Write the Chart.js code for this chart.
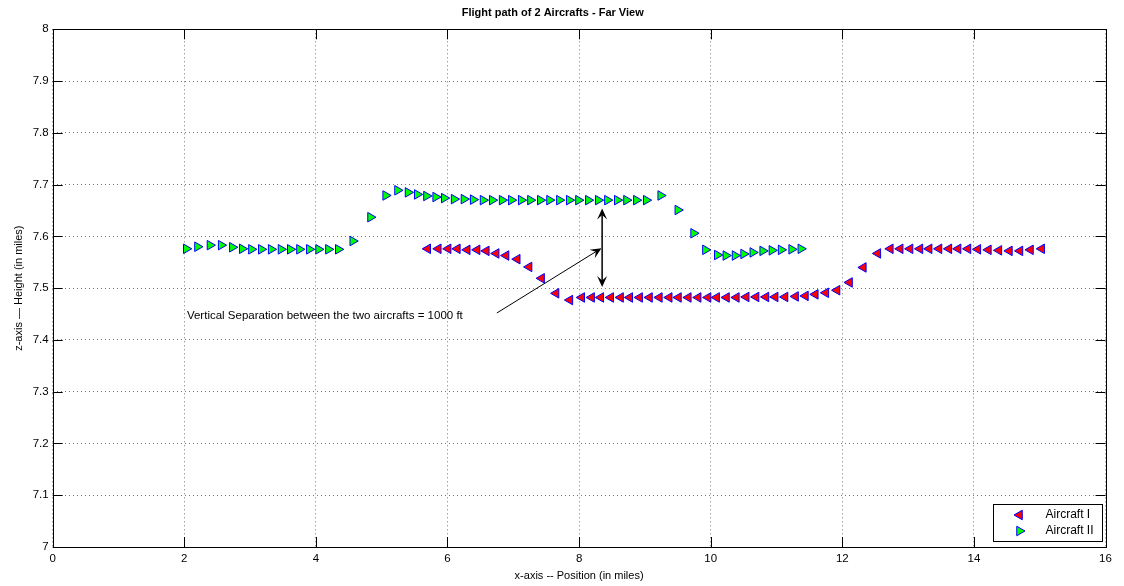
<!DOCTYPE html>
<html>
<head>
<meta charset="utf-8">
<script src="https://cdn.jsdelivr.net/npm/chart.js@4/dist/chart.umd.min.js"></script>
<style>
  body { margin: 0; background: #fff; }
  #wrap { width: 1124px; height: 586px; position: relative; }
</style>
</head>
<body>
<div id="wrap"><canvas id="flight"></canvas></div>
<script>
// tick labels
var xTicks = [0, 2, 4, 6, 8, 10, 12, 14, 16];
var yTicks = [7, 7.1, 7.2, 7.3, 7.4, 7.5, 7.6, 7.7, 7.8, 7.9, 8];

// Aircraft I (red, flying left)
var ac1X = [5.70, 5.86, 6.01, 6.15, 6.30, 6.45, 6.59, 6.74, 6.89, 7.06, 7.24, 7.43, 7.65, 7.86,
  8.04, 8.19, 8.33, 8.48, 8.63, 8.77, 8.92, 9.07, 9.22, 9.37, 9.51, 9.66, 9.81, 9.96,
  10.09, 10.24, 10.39, 10.54, 10.69, 10.84, 10.98, 11.13, 11.29, 11.44, 11.59, 11.75, 11.92,
  12.11, 12.32, 12.54, 12.73, 12.88, 13.03, 13.18, 13.32, 13.47, 13.62, 13.76, 13.91,
  14.06, 14.22, 14.38, 14.54, 14.70, 14.86, 15.03];
var ac1Z = [7.576, 7.576, 7.576, 7.576, 7.574, 7.574, 7.572, 7.567, 7.563, 7.556, 7.541, 7.519, 7.490, 7.477,
  7.482, 7.482, 7.482, 7.482, 7.482, 7.482, 7.482, 7.482, 7.482, 7.482, 7.482, 7.482, 7.482, 7.482,
  7.482, 7.482, 7.482, 7.483, 7.483, 7.483, 7.483, 7.483, 7.484, 7.485, 7.488, 7.491, 7.496,
  7.511, 7.540, 7.567, 7.576, 7.576, 7.576, 7.576, 7.576, 7.576, 7.576, 7.576, 7.576,
  7.575, 7.574, 7.573, 7.572, 7.572, 7.574, 7.576];

// Aircraft II (green, flying right)
var ac2X = [2.03, 2.20, 2.39, 2.56, 2.73, 2.88, 3.02, 3.17, 3.32, 3.47, 3.61, 3.75, 3.90, 4.04, 4.19, 4.34,
  4.56, 4.83,
  5.06, 5.24, 5.40, 5.54, 5.68, 5.82, 5.95, 6.10, 6.25, 6.39, 6.54, 6.68, 6.83, 6.97, 7.12, 7.26,
  7.41, 7.55, 7.70, 7.85, 7.99, 8.14, 8.29, 8.43, 8.58, 8.72, 8.87, 9.02,
  9.24, 9.50, 9.74, 9.92,
  10.10, 10.23, 10.37, 10.50, 10.64, 10.79, 10.93, 11.07, 11.23, 11.37];
var ac2Z = [7.576, 7.580, 7.583, 7.583, 7.579, 7.576, 7.575, 7.575, 7.575, 7.575, 7.575, 7.575, 7.575, 7.575, 7.575, 7.575,
  7.591, 7.637,
  7.679, 7.689, 7.685, 7.681, 7.678, 7.676, 7.674, 7.672, 7.672, 7.671, 7.670, 7.670, 7.670, 7.670, 7.670, 7.670,
  7.670, 7.670, 7.670, 7.670, 7.670, 7.670, 7.670, 7.670, 7.670, 7.670, 7.670, 7.670,
  7.679, 7.651, 7.606, 7.574,
  7.564, 7.563, 7.563, 7.566, 7.569, 7.572, 7.573, 7.574, 7.575, 7.576];

// annotation (data units)
var sepArrowX = [8.35, 8.35];
var sepArrowZ = [7.502, 7.654];
var noteArrowX = [6.75, 8.34];
var noteArrowZ = [7.452, 7.577];
var noteText = "Vertical Separation between the two aircrafts = 1000 ft";
var noteAt = [2.04, 7.446];

function toPoints(xs, zs) {
  var out = [];
  for (var i = 0; i < xs.length; i++) out.push({ x: xs[i], y: zs[i] });
  return out;
}

Chart.defaults.font.family = "'Liberation Sans', Arial, sans-serif";
Chart.defaults.color = "#000";

function triangle(ctx, x, y, r, dir, fill) {
  // dir 1 = right, -1 = left
  ctx.beginPath();
  ctx.moveTo(x + dir * r, y);
  ctx.lineTo(x - dir * r / 2, y - r * 0.866);
  ctx.lineTo(x - dir * r / 2, y + r * 0.866);
  ctx.closePath();
  ctx.fillStyle = fill;
  ctx.fill();
  ctx.strokeStyle = "#0000ff";
  ctx.lineWidth = 1;
  ctx.stroke();
}

function arrowHead(ctx, x0, y0, x1, y1) {
  var a = Math.atan2(y1 - y0, x1 - x0);
  var len = 11, half = 5;
  ctx.save();
  ctx.translate(x1, y1);
  ctx.rotate(a);
  ctx.beginPath();
  ctx.moveTo(0, 0);
  ctx.lineTo(-len, -half);
  ctx.lineTo(-len * 0.6, 0);
  ctx.lineTo(-len, half);
  ctx.closePath();
  ctx.fillStyle = "#000";
  ctx.fill();
  ctx.restore();
}

var extras = {
  id: "extras",
  beforeDatasetsDraw: function(chart) {
    var ctx = chart.ctx, a = chart.chartArea;
    var xs = chart.scales.x, ys = chart.scales.y;
    ctx.save();
    ctx.strokeStyle = "#000";
    ctx.lineWidth = 1;
    ctx.strokeRect(Math.round(a.left) + 0.5, Math.round(a.top) + 0.5,
      Math.round(a.right - a.left), Math.round(a.bottom - a.top));
    ctx.beginPath();
    xTicks.forEach(function(v) {
      var px = Math.round(xs.getPixelForValue(v)) + 0.5;
      ctx.moveTo(px, a.bottom); ctx.lineTo(px, a.bottom - 10);
      ctx.moveTo(px, a.top); ctx.lineTo(px, a.top + 10);
    });
    yTicks.forEach(function(v) {
      var py = Math.round(ys.getPixelForValue(v)) + 0.5;
      ctx.moveTo(a.left, py); ctx.lineTo(a.left + 10, py);
      ctx.moveTo(a.right, py); ctx.lineTo(a.right - 10, py);
    });
    ctx.stroke();
    ctx.restore();
  },
  afterDatasetsDraw: function(chart) {
    var ctx = chart.ctx, a = chart.chartArea;
    var xs = chart.scales.x, ys = chart.scales.y;
    ctx.save();
    // double arrow
    var sx = xs.getPixelForValue(sepArrowX[0]);
    var sy0 = ys.getPixelForValue(sepArrowZ[0]);
    var sy1 = ys.getPixelForValue(sepArrowZ[1]);
    ctx.strokeStyle = "#000";
    ctx.lineWidth = 1.5;
    ctx.beginPath();
    ctx.moveTo(sx, sy0 - 5); ctx.lineTo(sx, sy1 + 5);
    ctx.stroke();
    arrowHead(ctx, sx, sy1, sx, sy0);
    arrowHead(ctx, sx, sy0, sx, sy1);
    // note arrow
    var nx0 = xs.getPixelForValue(noteArrowX[0]), ny0 = ys.getPixelForValue(noteArrowZ[0]);
    var nx1 = xs.getPixelForValue(noteArrowX[1]), ny1 = ys.getPixelForValue(noteArrowZ[1]);
    ctx.lineWidth = 1;
    ctx.beginPath();
    ctx.moveTo(nx0, ny0); ctx.lineTo(nx1 - 5, ny1 + 3);
    ctx.stroke();
    arrowHead(ctx, nx0, ny0, nx1, ny1);
    // note text
    ctx.font = "11.5px 'Liberation Sans', Arial, sans-serif";
    ctx.fillStyle = "#000";
    ctx.textBaseline = "middle";
    ctx.textAlign = "left";
    ctx.fillText(noteText, xs.getPixelForValue(noteAt[0]), ys.getPixelForValue(noteAt[1]));
    // legend box
    var bw = 109, bh = 37;
    var bx = Math.round(a.right - 4 - bw) + 0.5, by = Math.round(a.bottom - 6 - bh) + 0.5;
    ctx.fillStyle = "#fff";
    ctx.fillRect(bx, by, bw, bh);
    ctx.strokeStyle = "#000";
    ctx.lineWidth = 1;
    ctx.strokeRect(bx, by, bw, bh);
    var ds = chart.data.datasets;
    triangle(ctx, bx + 26, by + 10.5, 5.5, -1, ds[0].backgroundColor);
    triangle(ctx, bx + 26, by + 26.5, 5.5, 1, ds[1].backgroundColor);
    ctx.fillStyle = "#000";
    ctx.font = "12px 'Liberation Sans', Arial, sans-serif";
    ctx.fillText(ds[0].label, bx + 52, by + 10.5);
    ctx.fillText(ds[1].label, bx + 52, by + 26.5);
    ctx.restore();
  }
};

var ctx = document.getElementById("flight").getContext("2d");
var chart = new Chart(ctx, {
  type: "scatter",
  data: {
    datasets: [
      {
        label: "Aircraft I",
        data: toPoints(ac1X, ac1Z),
        backgroundColor: "#ff0000",
        borderColor: "#0000ff",
        borderWidth: 1,
        pointStyle: "triangle",
        rotation: -90,
        pointRadius: 5.5,
        pointHoverRadius: 5.5
      },
      {
        label: "Aircraft II",
        data: toPoints(ac2X, ac2Z),
        backgroundColor: "#00ff00",
        borderColor: "#0000ff",
        borderWidth: 1,
        pointStyle: "triangle",
        rotation: 90,
        pointRadius: 5.5,
        pointHoverRadius: 5.5
      }
    ]
  },
  options: {
    responsive: true,
    maintainAspectRatio: false,
    animation: false,
    events: [],
    layout: { padding: { left: 0, right: 18.5, top: 0, bottom: 0 } },
    plugins: {
      legend: { display: false },
      tooltip: { enabled: false },
      title: {
        display: true,
        text: "Flight path of 2 Aircrafts - Far View",
        font: { size: 11, weight: "bold" },
        color: "#000",
        padding: { top: 6, bottom: 10.1 }
      }
    },
    scales: {
      x: {
        type: "linear",
        min: 0,
        max: 16,
        afterBuildTicks: function(scale) {
          scale.ticks = xTicks.map(function(v) { return { value: v }; });
        },
        afterFit: function(scale) { scale.height = 39; },
        ticks: { font: { size: 11.5 }, padding: 5, maxRotation: 0 },
        grid: { color: "#777", drawTicks: false, lineWidth: 1 },
        border: { display: false, dash: [1, 3] },
        title: {
          display: true,
          text: "x-axis -- Position (in miles)",
          font: { size: 11 },
          padding: { top: 0, bottom: 3.4 }
        }
      },
      y: {
        type: "linear",
        min: 7,
        max: 8,
        afterBuildTicks: function(scale) {
          scale.ticks = yTicks.map(function(v) { return { value: v }; });
        },
        afterFit: function(scale) { scale.width = 52.7; },
        ticks: {
          font: { size: 11.5 },
          padding: 4,
          callback: function(v) { return String(Math.round(v * 10) / 10); }
        },
        grid: { color: "#777", drawTicks: false, lineWidth: 1 },
        border: { display: false, dash: [1, 3] },
        title: {
          display: true,
          text: "z-axis \u2014 Height (in miles)",
          font: { size: 11 },
          padding: { top: 12, bottom: 0 }
        }
      }
    }
  },
  plugins: [extras]
});
</script>
</body>
</html>
